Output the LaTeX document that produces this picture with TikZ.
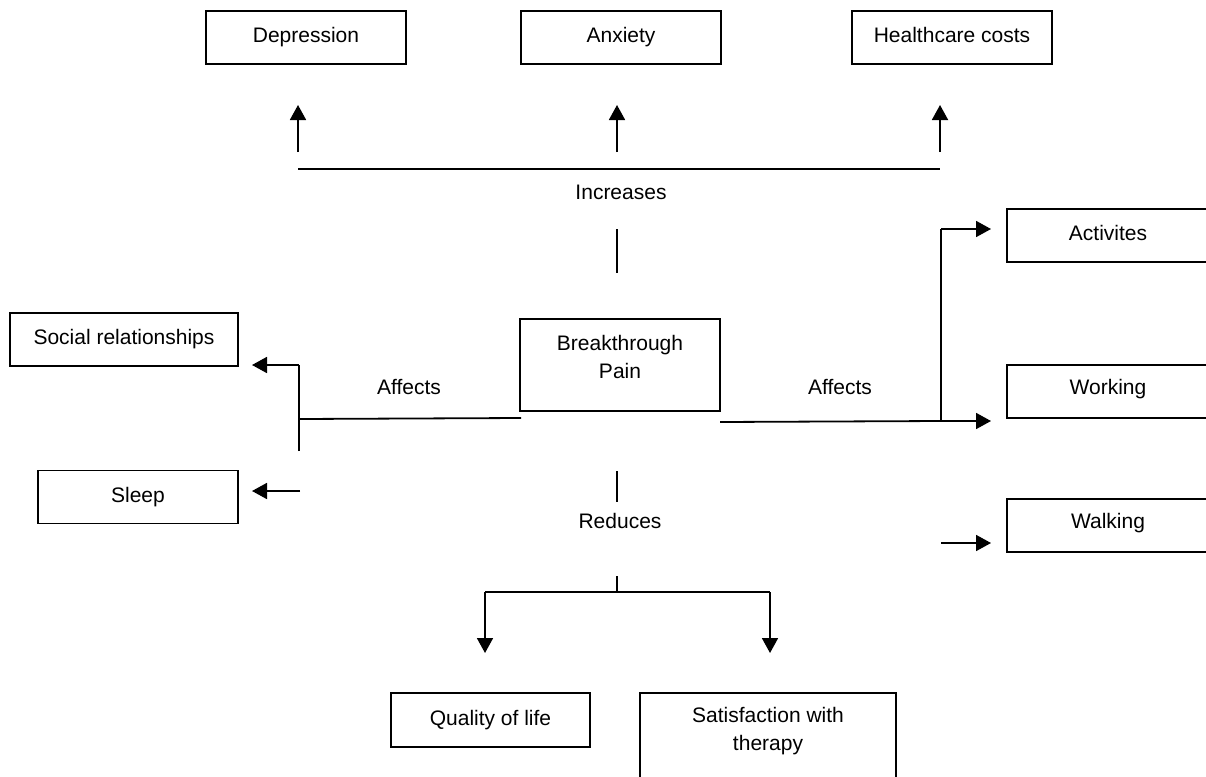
\documentclass[tikz,border=0pt]{standalone}
\usepackage{fontspec}
\setmainfont{Liberation Sans}
\usetikzlibrary{arrows.meta}
\tikzset{
  box/.style={draw, line width=1.8pt, rectangle, inner sep=0pt, outer sep=0pt,
    minimum height=53pt, text height=15pt, text depth=5pt,
    font=\fontsize{21}{28}\selectfont},
  word/.style={inner sep=0pt, font=\fontsize{21}{28}\selectfont, align=center},
  link/.style={line width=1.8pt},
  arr/.style={line width=1.8pt, -{Triangle[length=15pt,width=16pt]}},
}
\begin{document}
\begin{tikzpicture}[x=1pt, y=-1pt]
\useasboundingbox (0,0) rectangle (1206,776);
\begin{scope}
\clip (0,0) rectangle (1206,776);

% outcome boxes along the top
\node[box, minimum width=200pt] (dep) at (306,37.5) {Depression};
\node[box, minimum width=200pt] (anx) at (621,37.5) {Anxiety};
\node[box, minimum width=200pt] (hc)  at (952,37.5) {Healthcare costs};

% central box
\node[box, minimum width=200pt, minimum height=92pt] (bp) at (620,365) {};
\node[word] (bptext) at (620,357) {Breakthrough\\Pain};

% left-hand boxes
\node[box, minimum width=228pt] (soc)   at (124,339.5) {Social relationships};
\node[box, minimum width=200pt] (sleep) at (138,497) {Sleep};

% right-hand boxes (running off the right edge)
\node[box, minimum width=203pt] (act)  at (1108.5,235.5) {};
\node[word] (acttext) at (1108,233) {Activites};
\node[box, minimum width=203pt] (work) at (1108.5,391.5) {};
\node[word] (worktext) at (1108,389) {Working};
\node[box, minimum width=203pt] (walk) at (1108.5,525.5) {};
\node[word] (walktext) at (1108,523) {Walking};

% bottom boxes
\node[box, minimum width=199pt, minimum height=54pt] (qol) at (490.5,720) {Quality of life};
\node[box, minimum width=256pt, minimum height=110pt] (sat) at (768,748) {};
\node[word] (sattext) at (768,731.5) {Satisfaction with\\therapy};

% verb labels
\node[word] (inc) at (621,192) {Increases};
\node[word] (affl) at (409,387) {Affects};
\node[word] (affr) at (840,387) {Affects};
\node[word] (red) at (620,521) {Reduces};

% branch points
\coordinate (ia) at (298,169);
\coordinate (ic) at (940,169);
\coordinate (iatip) at (298,105);
\coordinate (ibtip) at (617,105);
\coordinate (ictip) at (940,105);
\coordinate (iabase) at (298,152);
\coordinate (ibbase) at (617,152);
\coordinate (icbase) at (940,152);
\coordinate (upa) at (617,229);
\coordinate (upb) at (617,273);

\coordinate (lfrom) at (521,418);
\coordinate (lmid)  at (299,419);
\coordinate (ltop)  at (299,365);
\coordinate (lbot)  at (299,451);
\coordinate (soctip) at (252,365);
\coordinate (slfrom) at (300,491);
\coordinate (sltip)  at (252,491);

\coordinate (rfrom) at (720,422);
\coordinate (rmid)  at (941,421);
\coordinate (rtop)  at (941,229);
\coordinate (acttip) at (991,229);
\coordinate (worktip) at (991,421);
\coordinate (wkfrom) at (941,543);
\coordinate (wktip)  at (991,543);

\coordinate (dnA) at (617,471);
\coordinate (dnB) at (617,502);
\coordinate (dnC) at (617,576);
\coordinate (dnD) at (617,592);
\coordinate (qa) at (485,592);
\coordinate (qb) at (770,592);
\coordinate (qatip) at (485,653);
\coordinate (qbtip) at (770,653);

% increases branch
\draw[link] (ia) -- (ic);
\draw[arr] (iabase) -- (iatip);
\draw[arr] (ibbase) -- (ibtip);
\draw[arr] (icbase) -- (ictip);
\draw[link, line width=1.3pt] (upa) -- (upb);

% affects, left side
\draw[link] (lfrom) -- (lmid);
\draw[link] (lbot) -- (ltop);
\draw[arr] (ltop) -- (soctip);
\draw[arr] (slfrom) -- (sltip);

% affects, right side
\draw[link] (rfrom) -- (rmid);
\draw[link] (rmid) -- (rtop);
\draw[arr] (rtop) -- (acttip);
\draw[arr] (rmid) -- (worktip);
\draw[arr] (wkfrom) -- (wktip);

% reduces branch
\draw[link, line width=1.3pt] (dnA) -- (dnB);
\draw[link, line width=1.3pt] (dnC) -- (dnD);
\draw[link] (qa) -- (qb);
\draw[arr] (qa) -- (qatip);
\draw[arr] (qb) -- (qbtip);
\end{scope}
\end{tikzpicture}
\end{document}
